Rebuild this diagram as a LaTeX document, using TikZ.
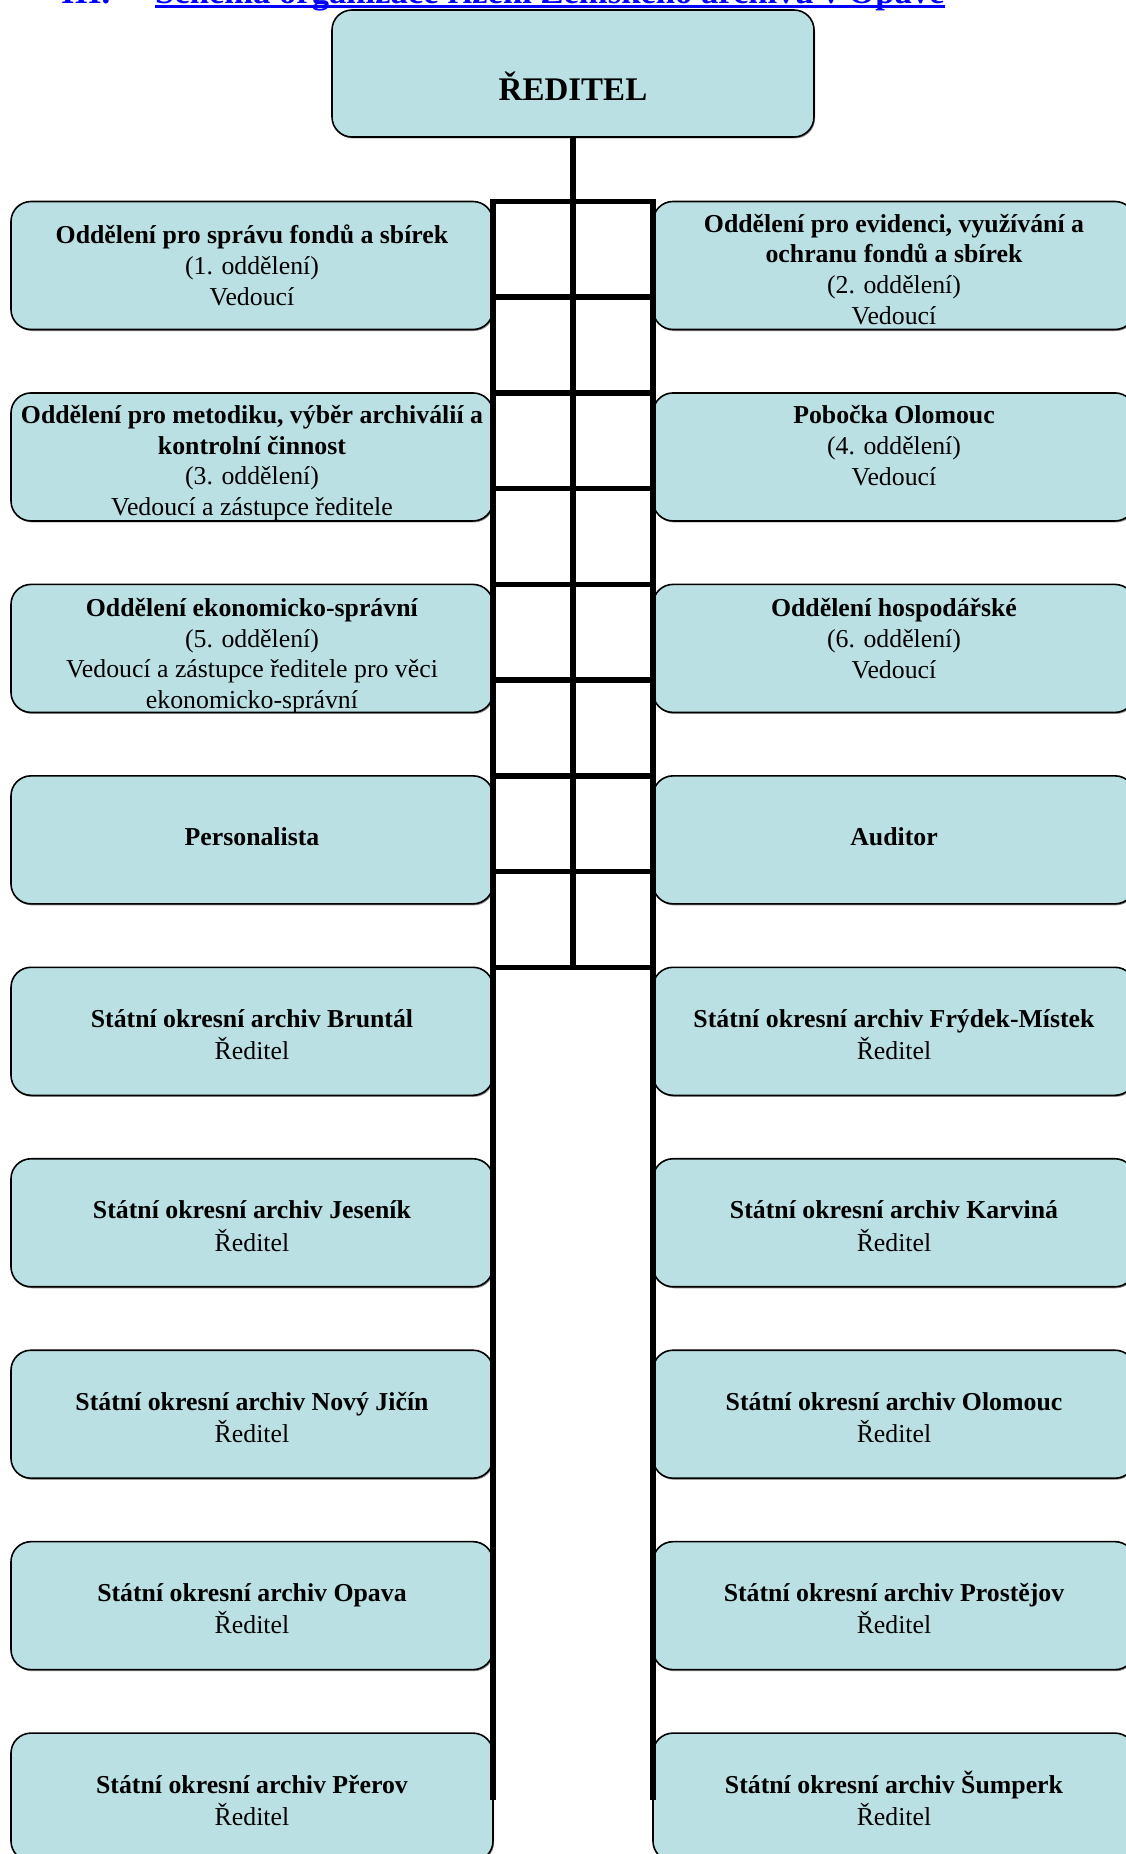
\documentclass[tikz,border=0pt]{standalone}
\usepackage{fontspec}
\setmainfont{Liberation Serif}
\usepackage{tikz}
\usetikzlibrary{%
  calc,%
  shadows%
}
\definecolor{boxfill}{RGB}{187,224,227}
\tikzset{>=latex,
  orgbox/.style={draw=black, line width=1.6pt, fill=boxfill, rounded corners=20pt,
    minimum width=482pt, minimum height=128pt, inner sep=0pt, outer sep=0pt,
    drop shadow={shadow xshift=1pt, shadow yshift=-1.5pt, fill=black!45, opacity=1}},
  boxtext/.style={align=center, inner sep=0pt, font=\fontsize{25.8}{30.7}\selectfont},
  ladder/.style={line width=5.5pt, line cap=rect},
  nadpis/.style={text=blue, anchor=base west, inner sep=0pt,
    font=\bfseries\fontsize{34.6}{40}\selectfont}
}

\begin{document}
\begin{tikzpicture}[x=1pt,y=-1pt]
    \useasboundingbox (0,0) rectangle (1126,1854);
    \node[nadpis] (cislo) at (61,4) {III.};
    \node[nadpis] (nazev) at (155,4) {Schéma organizace řízení Zemského archivu v Opavě};
    \draw[blue, line width=2.5pt] ([yshift=-2.5pt]nazev.base west) -- ([yshift=-2.5pt]nazev.base east);

    \node[orgbox, minimum height=127pt] (dir) at (573,73.5) {};
    \node[orgbox] (l1) at (252,265.5) {};
    \node[orgbox] (r1) at (894,265.5) {};
    \node[orgbox] (l2) at (252,456.95) {};
    \node[orgbox] (r2) at (894,456.95) {};
    \node[orgbox] (l3) at (252,648.4) {};
    \node[orgbox] (r3) at (894,648.4) {};
    \node[orgbox] (l4) at (252,839.85) {};
    \node[orgbox] (r4) at (894,839.85) {};
    \node[orgbox] (l5) at (252,1031.3) {};
    \node[orgbox] (r5) at (894,1031.3) {};
    \node[orgbox] (l6) at (252,1222.75) {};
    \node[orgbox] (r6) at (894,1222.75) {};
    \node[orgbox] (l7) at (252,1414.2) {};
    \node[orgbox] (r7) at (894,1414.2) {};
    \node[orgbox] (l8) at (252,1605.65) {};
    \node[orgbox] (r8) at (894,1605.65) {};
    \node[orgbox] (l9) at (252,1797.1) {};
    \node[orgbox] (r9) at (894,1797.1) {};

    \draw[ladder, line cap=butt] (dir.south) -- (dir.south |- l5.north);
    \draw[ladder] (l1.north east) -- (l9.east);
    \draw[ladder] (r1.north west) -- (r9.west);
    \draw[ladder] (l1.north east) -- (r1.north west);
    \draw[ladder] ($(l1.north east)!.5!(l2.north east)$) -- ($(r1.north west)!.5!(r2.north west)$);
    \draw[ladder] (l2.north east) -- (r2.north west);
    \draw[ladder] ($(l2.north east)!.5!(l3.north east)$) -- ($(r2.north west)!.5!(r3.north west)$);
    \draw[ladder] (l3.north east) -- (r3.north west);
    \draw[ladder] ($(l3.north east)!.5!(l4.north east)$) -- ($(r3.north west)!.5!(r4.north west)$);
    \draw[ladder] (l4.north east) -- (r4.north west);
    \draw[ladder] ($(l4.north east)!.5!(l5.north east)$) -- ($(r4.north west)!.5!(r5.north west)$);
    \draw[ladder] (l5.north east) -- (r5.north west);

    \node[inner sep=0pt, anchor=base, font=\bfseries\fontsize{33}{40}\selectfont] (dirt) at ([yshift=-27.5pt]dir.center) {ŘEDITEL};
    \node[boxtext] (l1t) at ([yshift=-3pt]l1.center) {\strut\textbf{Oddělení pro správu fondů a sbírek}\\(1. oddělení)\\Vedoucí\strut};
    \begin{scope}
        \clip[rounded corners=20pt] (r1.south west) rectangle (r1.north east);
        \node[boxtext] (r1t) at ([yshift=-6.7pt]r1.center) {\strut\textbf{Oddělení pro evidenci, využívání a}\\\textbf{ochranu fondů a sbírek}\\(2. oddělení)\\Vedoucí\strut};
    \end{scope}
    \begin{scope}
        \clip[rounded corners=20pt] (l2.south west) rectangle (l2.north east);
        \node[boxtext] (l2t) at ([yshift=-6.5pt]l2.center) {\strut\textbf{Oddělení pro metodiku, výběr archiválií a}\\\textbf{kontrolní činnost}\\(3. oddělení)\\Vedoucí a zástupce ředitele\strut};
    \end{scope}
    \node[boxtext] (r2t) at ([yshift=8.6pt]r2.center) {\strut\textbf{Pobočka Olomouc}\\(4. oddělení)\\Vedoucí\strut};
    \begin{scope}
        \clip[rounded corners=20pt] (l3.south west) rectangle (l3.north east);
        \node[boxtext] (l3t) at ([yshift=-8pt]l3.center) {\strut\textbf{Oddělení ekonomicko-správní}\\(5. oddělení)\\Vedoucí a zástupce ředitele pro věci\\ekonomicko-správní\strut};
    \end{scope}
    \node[boxtext] (r3t) at ([yshift=7pt]r3.center) {\strut\textbf{Oddělení hospodářské}\\(6. oddělení)\\Vedoucí\strut};
    \node[boxtext] (l4t) at (l4.center) {\strut\textbf{Personalista}\strut};
    \node[boxtext] (r4t) at (r4.center) {\strut\textbf{Auditor}\strut};
    \node[boxtext] (l5t) at ([yshift=-6pt]l5.center) {\strut\textbf{Státní okresní archiv Bruntál}\\Ředitel\strut};
    \node[boxtext] (r5t) at ([yshift=-6pt]r5.center) {\strut\textbf{Státní okresní archiv Frýdek-Místek}\\Ředitel\strut};
    \node[boxtext] (l6t) at ([yshift=-6pt]l6.center) {\strut\textbf{Státní okresní archiv Jeseník}\\Ředitel\strut};
    \node[boxtext] (r6t) at ([yshift=-6pt]r6.center) {\strut\textbf{Státní okresní archiv Karviná}\\Ředitel\strut};
    \node[boxtext] (l7t) at ([yshift=-6pt]l7.center) {\strut\textbf{Státní okresní archiv Nový Jičín}\\Ředitel\strut};
    \node[boxtext] (r7t) at ([yshift=-6pt]r7.center) {\strut\textbf{Státní okresní archiv Olomouc}\\Ředitel\strut};
    \node[boxtext] (l8t) at ([yshift=-6pt]l8.center) {\strut\textbf{Státní okresní archiv Opava}\\Ředitel\strut};
    \node[boxtext] (r8t) at ([yshift=-6pt]r8.center) {\strut\textbf{Státní okresní archiv Prostějov}\\Ředitel\strut};
    \node[boxtext] (l9t) at ([yshift=-6pt]l9.center) {\strut\textbf{Státní okresní archiv Přerov}\\Ředitel\strut};
    \node[boxtext] (r9t) at ([yshift=-6pt]r9.center) {\strut\textbf{Státní okresní archiv Šumperk}\\Ředitel\strut};
\end{tikzpicture}
\end{document}
